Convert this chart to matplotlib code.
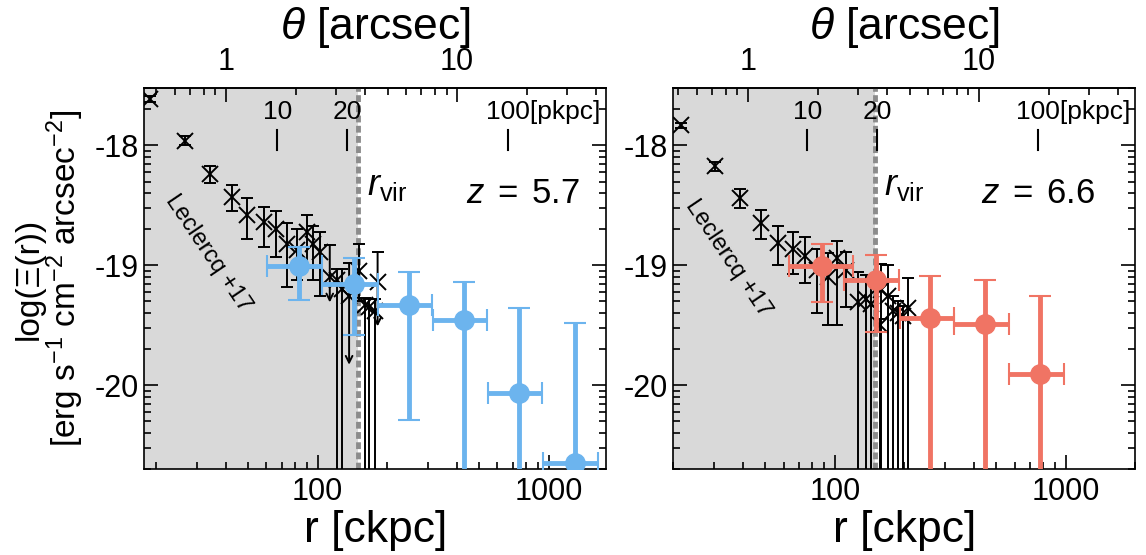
import numpy as np
import matplotlib
matplotlib.use("Agg")
import matplotlib.pyplot as plt
from matplotlib.ticker import FixedLocator, FuncFormatter, NullFormatter

plt.rcParams['font.family'] = ['Liberation Sans', 'DejaVu Sans']
plt.rcParams['mathtext.fontset'] = 'custom'
plt.rcParams['mathtext.rm'] = 'Liberation Sans'
plt.rcParams['mathtext.it'] = 'Liberation Sans:italic'
plt.rcParams['axes.linewidth'] = 1.2

# ---- panel settings ----
redshifts = [5.7, 6.6]
ckpc_per_arcsec = [40.2, 42.1]
r_vir = [150, 150]
xlims = [(17.8, 1780), (20, 2000)]
ylim = (-20.7, -17.52)
colors = ['#6cb4ee', '#f07464']
pkpc_ticks = [10, 20, 100]
theta_ticks = [1, 10]

# ---- our measurements (z=5.7, blue) ----
b_r = [83.2, 144, 248, 429, 744, 1300]
b_rlo = [60.6, 105, 182, 316, 545, 945]
b_rhi = [105, 182, 313, 543, 940, 1637]
b_v = [-19.01, -19.16, -19.33, -19.46, -20.07, -20.65]
b_vhi = [-18.85, -18.94, -19.06, -19.14, -19.36, -19.48]
b_vlo = [-19.29, -19.58, -20.29, -21.0, -21.0, -21.0]   # -21 = below the axis

# ---- our measurements (z=6.6, red) ----
r_r = [87.6, 150.5, 258, 447, 774]
r_rlo = [63.4, 109.4, 191.3, 328, 567]
r_rhi = [120, 190, 328, 567, 983]
r_v = [-19.01, -19.12, -19.44, -19.49, -19.91]
r_vhi = [-18.825, -18.91, -19.09, -19.12, -19.26]
r_vlo = [-19.31, -19.56, -21.0, -21.0, -21.0]

# ---- Leclercq+17, as shown in the z=5.7 panel ----
l1_r = [18.8, 26.7, 34.4, 42.7, 49.6, 58.6, 65.9, 74.0, 81.9, 90.5, 96.0, 103, 151]
l1_v = [-17.61, -17.96, -18.24, -18.43, -18.58, -18.64, -18.70, -18.82, -18.87,
        -18.72, -18.82, -18.89, -19.05]
l1_elo = [0.025, 0.04, 0.07, 0.12, 0.20, 0.21, 0.23, 0.36, 0.25, 0.30, 0.30, 0.37, 0.25]
l1_ehi = [0.025, 0.04, 0.07, 0.10, 0.14, 0.13, 0.15, 0.17, 0.17, 0.14, 0.15, 0.17, 0.23]
# points whose lower error runs off the bottom
l1b_r = [121, 128, 161, 167.5, 176.6]
l1b_v = [-19.12, -19.20, -19.33, -19.35, -19.38]
l1b_ehi = [0.09, 0.17, 0.06, 0.07, 0.10]
# upper limits (arrows)
l1u_r = [113, 137, 182]
l1u_v = [-19.10, -19.26, -19.14]
l1u_top = [-18.83, -18.98, -18.89]
l1u_end = [-19.31, -19.83, -19.51]

# ---- Leclercq+17, as shown in the z=6.6 panel ----
l2_r = [21.7, 30.2, 38.8, 48.1, 56.8, 65.9, 74.1, 84, 93.5, 102, 112]
l2_v = [-17.83, -18.175, -18.44, -18.65, -18.81, -18.86, -18.92, -19.04, -19.10,
        -18.94, -19.04]
l2_elo = [0.02, 0.035, 0.08, 0.13, 0.19, 0.21, 0.23, 0.36, 0.40, 0.56, 0.31]
l2_ehi = [0.02, 0.035, 0.08, 0.11, 0.14, 0.14, 0.16, 0.18, 0.20, 0.14, 0.15]
l2b_r = [126, 137, 143, 157, 159, 170, 178, 188, 197, 208]
l2b_v = [-19.31, -19.28, -19.32, -19.50, -19.21, -19.26, -19.38, -19.40, -19.42, -19.36]
l2b_ehi = [0.25, 0.20, 0.20, 0.05, 0.22, 0.26, 0.12, 0.10, 0.08, 0.25]
l2u_r, l2u_v, l2u_top, l2u_end = [], [], [], []

ours = [(b_r, b_rlo, b_rhi, b_v, b_vlo, b_vhi), (r_r, r_rlo, r_rhi, r_v, r_vlo, r_vhi)]
lec = [(l1_r, l1_v, l1_elo, l1_ehi, l1b_r, l1b_v, l1b_ehi, l1u_r, l1u_v, l1u_top, l1u_end),
       (l2_r, l2_v, l2_elo, l2_ehi, l2b_r, l2b_v, l2b_ehi, l2u_r, l2u_v, l2u_top, l2u_end)]
text_x = [0.82, 0.79]
lec_label_pos = [(33.8, -18.90), (34.5, -18.94)]

fig = plt.figure(figsize=(11.46, 5.55), dpi=100)
lefts = [0.1259, 0.5875]
plain = FuncFormatter(lambda x, pos: f'{x:g}')

# minor ticks of the log-flux axis (2..9 x 10^n)
minor_y = np.log10(np.outer(10.0 ** np.arange(-21, -17), np.arange(2, 10))).ravel()

for i in range(2):
    ax = fig.add_axes([lefts[i], 0.155, 0.4033, 0.6865])
    z = redshifts[i]
    ax.set_xscale('log')
    ax.set_xlim(*xlims[i])
    ax.set_ylim(*ylim)

    ax.axvspan(1, r_vir[i], color='#d9d9d9', zorder=0, lw=0)
    ax.axvline(r_vir[i], color='#8c8c8c', ls=(0, (1.4, 0.7)), lw=3.5, zorder=1)

    # Leclercq+17
    lr, lv, lelo, lehi, br, bv, behi, ur, uv, utop, uend = lec[i]
    ax.errorbar(lr, lv, yerr=[lelo, lehi], fmt='x', color='k', ms=11, mew=1.4,
                elinewidth=1.4, capsize=4, capthick=1.4, zorder=3)
    bv_arr = np.array(bv)
    ax.errorbar(br, bv, yerr=[bv_arr + 21.0, behi], fmt='x', color='k', ms=11, mew=1.4,
                elinewidth=1.4, capsize=4, capthick=1.4, zorder=3)
    for rr, vv, tt, ee in zip(ur, uv, utop, uend):
        ax.annotate('', xy=(rr, ee), xytext=(rr, tt),
                    arrowprops=dict(arrowstyle='->', color='k', lw=1.4,
                                    mutation_scale=12, shrinkA=0, shrinkB=0), zorder=3)
    if ur:
        ax.plot(ur, utop, '_', color='k', ms=8, mew=1.4, zorder=3)
        ax.plot(ur, uv, 'x', color='k', ms=11, mew=1.4, zorder=3)

    # our points
    rr, rlo, rhi, vv, vlo, vhi = [np.array(a) for a in ours[i]]
    ax.errorbar(rr, vv, xerr=[rr - rlo, rhi - rr], yerr=[vv - vlo, vhi - vv], fmt='o',
                color=colors[i], ms=14, elinewidth=3.5, capsize=8, capthick=1.5, zorder=5)

    # ticks
    ax.yaxis.set_major_locator(FixedLocator([-20, -19, -18]))
    ax.yaxis.set_minor_locator(FixedLocator(minor_y))
    ax.yaxis.set_major_formatter(FuncFormatter(lambda y, pos: f'{y:.0f}'))
    ax.xaxis.set_major_formatter(plain)
    ax.xaxis.set_minor_formatter(NullFormatter())
    ax.tick_params(which='both', direction='in', right=True, top=False, width=1.2)
    ax.tick_params(which='major', length=10, labelsize=22)
    ax.tick_params(which='minor', length=5)
    ax.tick_params(axis='x', pad=6)
    ax.tick_params(axis='y', pad=4)

    s = ckpc_per_arcsec[i]
    sec = ax.secondary_xaxis('top', functions=(lambda r, s=s: r / s, lambda t, s=s: t * s))
    sec.xaxis.set_major_locator(FixedLocator(theta_ticks))
    sec.xaxis.set_major_formatter(plain)
    sec.xaxis.set_minor_formatter(NullFormatter())
    sec.tick_params(which='both', direction='in', width=1.2)
    sec.tick_params(which='major', length=10, labelsize=22, pad=8)
    sec.tick_params(which='minor', length=5)
    sec.set_xlabel(r'$\theta$ [arcsec]', fontsize=32, labelpad=6)

    ax.set_xlabel('r [ckpc]', fontsize=32, labelpad=2)
    if i == 0:
        ax.set_ylabel('log(\u039e(r))\n[erg s$^{-1}$ cm$^{-2}$ arcsec$^{-2}$]',
                      fontsize=24, labelpad=6, linespacing=1.0)

    # physical-kpc markers
    xt = ax.get_xaxis_transform()
    for p in pkpc_ticks:
        rp = p * (1 + z)
        ax.plot([rp, rp], [0.837, 0.89], color='k', lw=1.5, transform=xt)
        if p == pkpc_ticks[-1]:
            ax.annotate(f'{p}[pkpc]', xy=(rp, 0.919), xycoords=xt, xytext=(-15.8, 0),
                        textcoords='offset points', ha='left', va='baseline', fontsize=19)
        else:
            ax.text(rp, 0.919, f'{p}', transform=xt, ha='center', va='baseline', fontsize=19)

    ax.annotate(r'$r_{\rm vir}$', xy=(r_vir[i], 0.745), xycoords=xt, xytext=(6, 0),
                textcoords='offset points', ha='left', va='center', fontsize=26)
    ax.text(text_x[i], 0.724, rf'$z\;=\;{z}$', transform=ax.transAxes, ha='center',
            va='center', fontsize=25)
    ax.text(*lec_label_pos[i], 'Leclercq +17', rotation=-56,
            rotation_mode='anchor', ha='center', va='center', fontsize=17)

fig.savefig('out.png', dpi=100)
